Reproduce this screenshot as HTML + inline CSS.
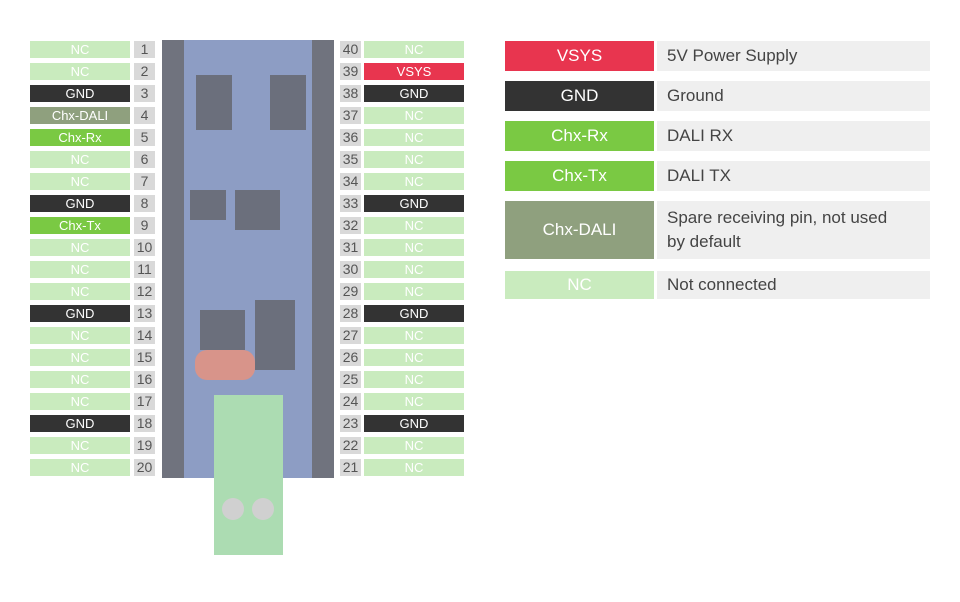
<!DOCTYPE html>
<html><head><style>
body{margin:0;width:960px;height:602px;background:#fff;position:relative;overflow:hidden;font-family:"Liberation Sans",sans-serif}
.a{position:absolute;box-sizing:border-box}
.l{height:17px;width:100px;color:#fff;font-size:13px;text-align:center;line-height:17px}
.n{height:17px;width:21px;background:#d9d9d9;color:#555;font-size:14px;text-align:center;line-height:17px}
.nc{background:#c9ebbe}.gnd{background:#333}.rx{background:#7ac943}.dali{background:#8fa07e}.vs{background:#e8354f}
.lg{color:#fff;font-size:17px;text-align:center;width:149px}
.ld{background:#efefef;color:#444;font-size:17px;padding-left:10px;width:273px;left:657px}
.c{background:#6b6f7c}
</style></head><body>
<div id="p"></div>
<div class="a" style="left:162px;top:40px;width:171px;height:438px;background:#8d9dc4"></div>
<div class="a" style="left:162px;top:40px;width:22px;height:438px;background:#70737e"></div>
<div class="a" style="left:312px;top:40px;width:22px;height:438px;background:#70737e"></div>
<div class="a c" style="left:196px;top:75px;width:36px;height:55px"></div>
<div class="a c" style="left:270px;top:75px;width:36px;height:55px"></div>
<div class="a c" style="left:190px;top:190px;width:36px;height:30px"></div>
<div class="a c" style="left:235px;top:190px;width:45px;height:40px"></div>
<div class="a c" style="left:200px;top:310px;width:45px;height:40px"></div>
<div class="a c" style="left:255px;top:300px;width:40px;height:70px"></div>
<div class="a" style="left:195px;top:350px;width:60px;height:30px;background:#d8948a;border-radius:12px"></div>
<div class="a" style="left:214px;top:395px;width:69px;height:160px;background:#acdcb2"></div>
<div class="a" style="left:222px;top:498px;width:22px;height:22px;border-radius:50%;background:#d0d0d0"></div>
<div class="a" style="left:252px;top:498px;width:22px;height:22px;border-radius:50%;background:#d0d0d0"></div>
<div class="a lg vs" style="left:505px;top:41px;height:30px;line-height:30px">VSYS</div><div class="a ld" style="top:41px;height:30px;line-height:30px">5V Power Supply</div>
<div class="a lg gnd" style="left:505px;top:81px;height:30px;line-height:30px">GND</div><div class="a ld" style="top:81px;height:30px;line-height:30px">Ground</div>
<div class="a lg rx" style="left:505px;top:121px;height:30px;line-height:30px">Chx-Rx</div><div class="a ld" style="top:121px;height:30px;line-height:30px">DALI RX</div>
<div class="a lg rx" style="left:505px;top:161px;height:30px;line-height:30px">Chx-Tx</div><div class="a ld" style="top:161px;height:30px;line-height:30px">DALI TX</div>
<div class="a lg dali" style="left:505px;top:201px;height:58px;line-height:58px">Chx-DALI</div><div class="a ld" style="top:201px;height:58px;line-height:24px;padding-top:5px;padding-right:32px">Spare receiving pin, not used by default</div>
<div class="a lg nc" style="left:505px;top:271px;height:28px;line-height:28px">NC</div><div class="a ld" style="top:271px;height:28px;line-height:28px">Not connected</div>
<script>
var L=[["NC","nc"],["NC","nc"],["GND","gnd"],["Chx-DALI","dali"],["Chx-Rx","rx"],["NC","nc"],["NC","nc"],["GND","gnd"],["Chx-Tx","rx"],["NC","nc"],["NC","nc"],["NC","nc"],["GND","gnd"],["NC","nc"],["NC","nc"],["NC","nc"],["NC","nc"],["GND","gnd"],["NC","nc"],["NC","nc"]];
var R=[["NC","nc"],["VSYS","vs"],["GND","gnd"],["NC","nc"],["NC","nc"],["NC","nc"],["NC","nc"],["GND","gnd"],["NC","nc"],["NC","nc"],["NC","nc"],["NC","nc"],["GND","gnd"],["NC","nc"],["NC","nc"],["NC","nc"],["NC","nc"],["GND","gnd"],["NC","nc"],["NC","nc"]];
var h="";
for(var i=0;i<20;i++){var t=41+22*i;
h+='<div class="a l '+L[i][1]+'" style="left:30px;top:'+t+'px">'+L[i][0]+'</div>';
h+='<div class="a n" style="left:134px;top:'+t+'px">'+(i+1)+'</div>';
h+='<div class="a n" style="left:340px;top:'+t+'px">'+(40-i)+'</div>';
h+='<div class="a l '+R[i][1]+'" style="left:364px;top:'+t+'px">'+R[i][0]+'</div>';}
document.getElementById("p").innerHTML=h;
</script>
</body></html>
